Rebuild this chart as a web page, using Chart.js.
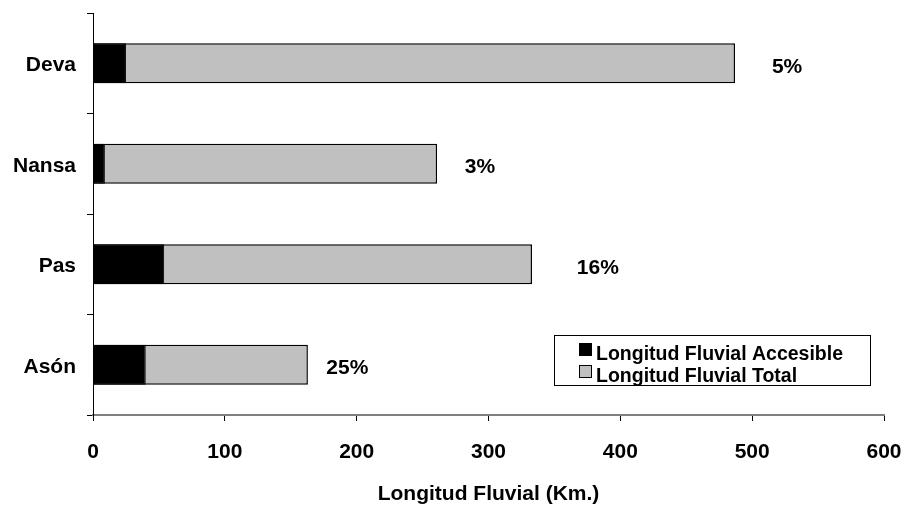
<!DOCTYPE html>
<html>
<head>
<meta charset="utf-8">
<script src="https://cdn.jsdelivr.net/npm/chart.js@4/dist/chart.umd.min.js"></script>
<style>
  html, body { margin: 0; padding: 0; background: #fff; }
  #wrap { width: 906px; height: 508px; }
</style>
</head>
<body>
<div id="wrap"><canvas id="c" width="906" height="508"></canvas></div>
<script>
// River lengths in km
const rivers = ['Deva', 'Nansa', 'Pas', 'Asón'];
const accessibleKm = [25, 9, 54, 40];
const totalKm = [487, 261, 333, 163];
const xTicks = [0, 100, 200, 300, 400, 500, 600];
// where each percentage label starts, in km along the x axis
const pctLabelAt = [515, 282, 367, 177];

const FONT = 'Liberation Sans, Arial, Helvetica, sans-serif';

// the plot area is placed by the layout padding alone
function noLabelOverflow(scale) {
  scale.paddingLeft = 0;
  scale.paddingRight = 0;
  scale.paddingTop = 0;
  scale.paddingBottom = 0;
}

// percentage of accessible length, written to the right of each bar
const pctLabels = {
  id: 'pctLabels',
  afterDatasetsDraw(chart) {
    const { ctx, scales: { x, y } } = chart;
    ctx.save();
    ctx.font = 'bold 21px ' + FONT;
    ctx.fillStyle = '#000';
    ctx.textAlign = 'left';
    ctx.textBaseline = 'alphabetic';
    rivers.forEach((r, i) => {
      const pct = Math.round(accessibleKm[i] / totalKm[i] * 100) + '%';
      ctx.fillText(pct, x.getPixelForValue(pctLabelAt[i]), y.getPixelForValue(i) + 9.5);
    });
    ctx.restore();
  }
};

// boxed legend inside the plot area
const boxLegend = {
  id: 'boxLegend',
  afterDraw(chart) {
    const { ctx } = chart;
    const bx = 554.5, by = 335.5, bw = 316, bh = 50;
    ctx.save();
    ctx.fillStyle = '#fff';
    ctx.fillRect(bx, by, bw, bh);
    ctx.strokeStyle = '#000';
    ctx.lineWidth = 1;
    ctx.strokeRect(bx, by, bw, bh);
    ctx.font = 'bold 19.5px ' + FONT;
    ctx.textAlign = 'left';
    ctx.textBaseline = 'alphabetic';
    chart.data.datasets.forEach((ds, i) => {
      const top = 343 + i * 22;
      ctx.fillStyle = ds.backgroundColor;
      ctx.fillRect(579.5, top + 0.5, 12, 12);
      ctx.strokeStyle = '#000';
      ctx.strokeRect(579.5, top + 0.5, 12, 12);
      ctx.fillStyle = '#000';
      ctx.fillText(ds.label, 596, top + 16.5);
    });
    ctx.restore();
  }
};

new Chart(document.getElementById('c'), {
  type: 'bar',
  data: {
    labels: rivers,
    datasets: [
      {
        label: 'Longitud Fluvial Accesible',
        data: accessibleKm,
        backgroundColor: '#000000',
        borderColor: '#000000',
        borderWidth: 1,
        borderSkipped: false,
        grouped: false,
        barPercentage: 0.4,
        categoryPercentage: 1.0
      },
      {
        label: 'Longitud Fluvial Total',
        data: totalKm,
        backgroundColor: '#c0c0c0',
        borderColor: '#000000',
        borderWidth: 1.5,
        borderSkipped: false,
        grouped: false,
        barPercentage: 0.4,
        categoryPercentage: 1.0
      }
    ]
  },
  options: {
    indexAxis: 'y',
    responsive: false,
    animation: false,
    devicePixelRatio: 1,
    layout: { padding: { left: 12, top: 13, right: 22, bottom: 1 } },
    plugins: {
      legend: { display: false },
      tooltip: { enabled: false }
    },
    scales: {
      x: {
        type: 'linear',
        min: 0,
        max: 600,
        afterBuildTicks(scale) { scale.ticks = xTicks.map(v => ({ value: v })); },
        afterFit(scale) { noLabelOverflow(scale); scale.height = 92; },
        ticks: {
          color: '#000',
          font: { family: FONT, size: 21, weight: 'bold' },
          padding: 19,
          maxRotation: 0
        },
        grid: { drawOnChartArea: false, drawTicks: true, tickLength: 6, color: '#000', lineWidth: 1 },
        border: { display: true, color: '#808080', width: 2 },
        title: {
          display: true,
          text: 'Longitud Fluvial (Km.)',
          color: '#000',
          font: { family: FONT, size: 21, weight: 'bold' },
          padding: { top: 17, bottom: 0 }
        }
      },
      y: {
        type: 'category',
        offset: true,
        afterFit(scale) { noLabelOverflow(scale); scale.width = 81; },
        ticks: {
          color: '#000',
          font: { family: FONT, size: 21, weight: 'bold' },
          padding: 11,
          labelOffset: 2
        },
        grid: { offset: true, drawOnChartArea: false, drawTicks: true, tickLength: 6, color: '#000', lineWidth: 1 },
        border: { display: true, color: '#000', width: 1 }
      }
    }
  },
  plugins: [pctLabels, boxLegend]
});
</script>
</body>
</html>
